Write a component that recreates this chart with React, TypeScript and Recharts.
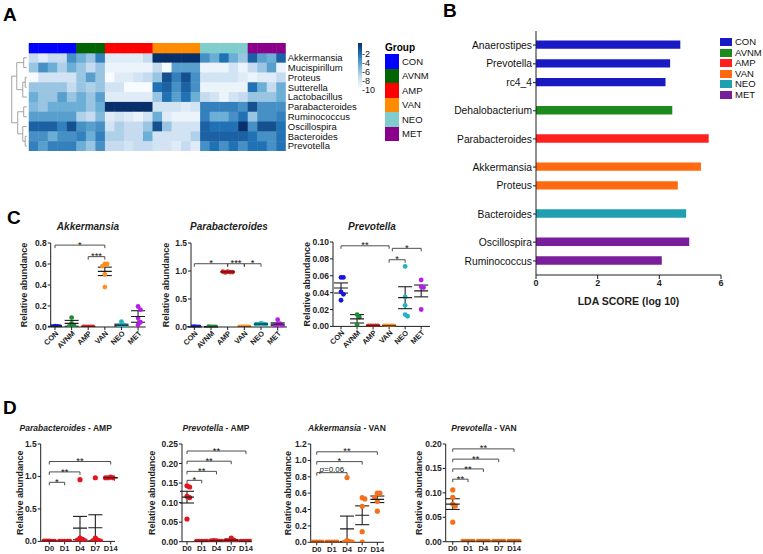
import React from "react";
import {
  ScatterChart, Scatter, XAxis, YAxis, ErrorBar, ReferenceLine,
  BarChart, Bar, Cell,
} from "recharts";

const FONT = "'Liberation Sans', Arial, Helvetica, sans-serif";
const INK = "#1e1e1e";

// ---------------- A: heatmap ----------------
const groups = ["CON", "AVNM", "AMP", "VAN", "NEO", "MET"];
const groupColors = ["#0000ff", "#006400", "#ff0000", "#ff8c00", "#7fcdcd", "#8b008b"];
const groupSizes = [5, 3, 5, 5, 5, 4];
const heatTaxa = [
  "Akkermansia", "Mucispirillum", "Proteus", "Sutterella", "Lactobacillus",
  "Parabacteroides", "Ruminococcus", "Oscillospira", "Bacteroides", "Prevotella",
];
// log abundance per sample (columns ordered CON | AVNM | AMP | VAN | NEO | MET)
const heatValues = [
  [-8, -9, -8, -8, -5, -6, -7, -4.5, -9, -9, -9, -9, -8, -2, -2, -2, -2, -2, -5, -6, -4, -6, -7, -3.5, -5.5, -6, -3.5],
  [-7, -5, -6, -7.5, -6, -7, -8, -7, -9.5, -9.5, -9.5, -9.5, -9.5, -8, -10, -5.5, -5.5, -5.5, -9.5, -9.5, -9.5, -8.5, -9.5, -8, -7, -5.5, -9.5],
  [-10, -8.5, -8.5, -8.5, -8.5, -7, -5.5, -7, -10, -9, -9, -8.5, -8, -7, -3, -4.5, -3, -5, -8.5, -8.5, -8.5, -8.5, -9, -9.5, -9, -9, -8],
  [-7, -7, -7, -7, -8, -7, -7.5, -7, -8.5, -8.5, -10, -10, -10, -4, -3.5, -5, -3.5, -5, -9.5, -9.5, -9.5, -9.5, -9.5, -4, -6, -8, -6],
  [-6, -7, -7, -5.5, -7, -6, -7, -5.5, -9, -9, -9, -9, -9, -7, -4, -5.5, -4, -6, -8, -8.5, -9.5, -8.5, -8, -7, -7, -7, -6],
  [-6.5, -7, -6, -6, -6, -6, -7, -6, -2, -2, -2, -2, -2, -8.5, -8.5, -8.5, -9, -8.5, -4.5, -4.5, -4.5, -4.5, -5, -3, -5, -5, -5],
  [-5.5, -5.5, -5.5, -5.5, -5.5, -7.5, -8, -6.5, -9, -8.5, -9, -9.5, -8.5, -6, -9, -9.5, -9.5, -9.5, -4.5, -6, -6, -5, -4, -7, -5, -5, -4.5],
  [-3.5, -3.5, -3.5, -4.5, -3, -5, -5.5, -5, -8.5, -7.5, -8, -8, -7, -3, -7, -8.5, -8.5, -8.5, -3.5, -4, -4, -4, -2, -5, -3, -3, -4],
  [-5, -5, -6, -5, -5, -4.5, -6, -4.5, -7.5, -7.5, -8, -8, -6, -8.5, -8.5, -8.5, -8.5, -7.5, -3.5, -3.5, -3.5, -3.5, -3.5, -4, -5, -5, -4],
  [-4.5, -5.5, -4.5, -4.5, -4.5, -6, -7, -5, -8, -8, -8.5, -8, -8, -8.5, -8.5, -9, -8, -9, -5, -4, -5, -4, -5, -4, -4, -5, -4],
];
const colorbarTicks = [-2, -4, -6, -8, -10];
// row clustering: [childA, childB, height]; ids 0-9 are rows, 10+ are the merges in order
const dendroMerges = [
  [2, 3, 0.37], [10, 4, 0.63], [0, 1, 0.53], [12, 11, 1.26],
  [8, 9, 0.37], [7, 14, 0.63], [5, 6, 0.53], [16, 15, 1.16], [13, 17, 1.79],
];

const blueStops = ["#f7fbff", "#c6dbef", "#6baed6", "#2171b5", "#08306b"];
function blues(v: number) {
  const t = Math.min(1, Math.max(0, (v + 10) / 8)) * 4;
  const i = Math.min(3, Math.floor(t));
  const f = t - i;
  const a = blueStops[i], b = blueStops[i + 1];
  const ch = (s: string, k: number) => parseInt(s.slice(1 + k * 2, 3 + k * 2), 16);
  const c = [0, 1, 2].map((k) => Math.round(ch(a, k) + (ch(b, k) - ch(a, k)) * f));
  return `rgb(${c.join(",")})`;
}

const HM = { left: 29, top: 43, colW: 9.52, rowH: 9.82, xMin: -2.6 };

function Heatmap() {
  const nCols = groupSizes.reduce((a, b) => a + b, 0);
  const colGroup = groupSizes.flatMap((n, g) => Array(n).fill(g));
  const cells = heatValues.flatMap((row, r) => row.map((v, c) => ({ x: c + 0.5, y: 9.5 - r, c: blues(v) })));
  const band = colGroup.map((g, c) => ({ x: c + 0.5, y: 10.5, c: groupColors[g] }));
  const nodes = heatTaxa.map((_, r) => ({ y: 9.5 - r, h: 0.2 }));
  const links = dendroMerges.map(([a, b, h]) => {
    const A = nodes[a], B = nodes[b];
    nodes.push({ y: (A.y + B.y) / 2, h });
    return [{ x: -A.h, y: A.y }, { x: -h, y: A.y }, { x: -h, y: B.y }, { x: -B.h, y: B.y }];
  });
  const plotW = (nCols - HM.xMin) * HM.colW;
  const plotH = 11 * HM.rowH;
  const Rect = (p: any) => (
    <rect x={p.cx - HM.colW / 2} y={p.cy - HM.rowH / 2} width={HM.colW + 0.5} height={HM.rowH + 0.5} fill={p.payload.c} />
  );
  return (
    <div style={{ position: "absolute", left: HM.left + HM.xMin * HM.colW, top: HM.top }}>
      <ScatterChart width={plotW + 80} height={plotH} margin={{ top: 0, right: 0, bottom: 0, left: 0 }}>
        <XAxis type="number" dataKey="x" domain={[HM.xMin, nCols]} hide allowDataOverflow />
        <YAxis type="number" dataKey="y" domain={[0, 11]} orientation="right" width={80}
          ticks={heatTaxa.map((_, r) => 9.5 - r)} interval={0} allowDataOverflow
          tickFormatter={(v: number) => heatTaxa[Math.round(9.5 - v)]}
          axisLine={false} tickLine={false} tickSize={0} tickMargin={2}
          tick={{ fontSize: 9.5, fill: "#111", fontFamily: FONT }} />
        <Scatter data={cells} shape={Rect} isAnimationActive={false} />
        <Scatter data={band} shape={Rect} isAnimationActive={false} />
        {links.map((pts, i) => (
          <Scatter key={i} data={pts} line={{ stroke: "#9a9a9a", strokeWidth: 0.9 }} shape={() => <g />} isAnimationActive={false} />
        ))}
      </ScatterChart>
    </div>
  );
}

function HeatLegends() {
  return (
    <>
      <div style={{ position: "absolute", left: 358, top: 43, width: 4, height: 45,
        background: `linear-gradient(to bottom, ${[...blueStops].reverse().join(",")})` }} />
      {colorbarTicks.map((t, i) => (
        <div key={t} style={{ position: "absolute", left: 362, top: 54 + i * 9.1 - 5, fontSize: 9, lineHeight: "10px", color: "#111" }}>{t}</div>
      ))}
      <div style={{ position: "absolute", left: 385, top: 42, fontSize: 10, fontWeight: "bold", lineHeight: "12px" }}>Group</div>
      {groups.map((g, i) => (
        <React.Fragment key={g}>
          <div style={{ position: "absolute", left: 385, top: 54 + i * 14.5, width: 14, height: 14.5, background: groupColors[i] }} />
          <div style={{ position: "absolute", left: 402, top: 54 + i * 14.5 + 1.5, fontSize: 9.5, lineHeight: "12px", color: "#111" }}>{g}</div>
        </React.Fragment>
      ))}
    </>
  );
}

// ---------------- B: LDA scores ----------------
const ldaTaxa = ["Anaerostipes", "Prevotella", "rc4_4", "Dehalobacterium", "Parabacteroides", "Akkermansia", "Proteus", "Bacteroides", "Oscillospira", "Ruminococcus"];
const ldaScores = [4.68, 4.35, 4.2, 4.42, 5.6, 5.35, 4.6, 4.87, 4.97, 4.08];
const ldaGroup = [0, 0, 0, 1, 2, 3, 3, 4, 5, 5];
const ldaSlot = [1, 3, 5, 8, 11, 14, 16, 19, 22, 24]; // half-row slots, gaps between groups
const ldaRowCount = 26;
const ldaTicks = [0, 2, 4, 6];
const ldaColors = ["#1a1ac4", "#1e8a1e", "#ff2020", "#ff6a10", "#1f9fb0", "#7a1f9c"];

function LdaTick({ x, y, payload }: any) {
  if (String(payload.value).startsWith("_")) return <g />;
  return (
    <g>
      <line x1={x} x2={x + 3} y1={y} y2={y} stroke={INK} />
      <text x={x - 1} y={y} dy="0.35em" textAnchor="end" fontSize={10.3} fill="#111" fontFamily={FONT}>{payload.value}</text>
    </g>
  );
}

function LdaChart() {
  const rows = Array.from({ length: ldaRowCount }, (_, i) => {
    const k = ldaSlot.indexOf(i);
    return k < 0 ? { name: `_${i}`, lda: null, g: -1 } : { name: ldaTaxa[k], lda: ldaScores[k], g: ldaGroup[k] };
  });
  return (
    <div style={{ position: "absolute", left: 420, top: 20 }}>
      <BarChart width={116 + 185 + 12} height={11 + 244 + 32} data={rows} layout="vertical"
        margin={{ top: 11, right: 12, bottom: 0, left: 0 }}>
        <XAxis type="number" domain={[0, 6]} ticks={ldaTicks} interval={0} height={32}
          tickSize={4} tickMargin={1} axisLine={{ stroke: INK }} tickLine={{ stroke: INK }}
          tick={{ fontSize: 9, fontWeight: "bold", fill: INK, fontFamily: FONT }}
          label={{ value: "LDA SCORE (log 10)", position: "insideBottom", offset: 2, fontSize: 10.5, fontWeight: "bold", fill: INK, fontFamily: FONT }} />
        <YAxis type="category" dataKey="name" width={116} interval={0} tickSize={3} tickMargin={0}
          tickLine={false} axisLine={{ stroke: INK }} tick={<LdaTick />} />
        <Bar dataKey="lda" barSize={12} isAnimationActive={false}>
          {rows.map((r, i) => <Cell key={i} fill={r.g < 0 ? "none" : ldaColors[r.g]} />)}
        </Bar>
      </BarChart>
      {groups.map((g, i) => (
        <React.Fragment key={g}>
          <div style={{ position: "absolute", left: 300, top: 42 - 20 + i * 10.6 - 4, width: 12, height: 8, background: ldaColors[i] }} />
          <div style={{ position: "absolute", left: 315, top: 42 - 20 + i * 10.6 - 6, fontSize: 9.5, lineHeight: "12px", color: "#111" }}>{g}</div>
        </React.Fragment>
      ))}
    </div>
  );
}

// ---------------- C: relative abundance per group ----------------
const cColors = ["#1616e0", "#1e8a32", "#e81e1e", "#ff8f1f", "#1fb4c4", "#b41fe6"];

const akkDots = [[0.008, 0.005, 0.004, 0.003, 0.006], [0.09, 0.035, 0.012, 0.005], [0.002, 0.001, 0.001, 0.002, 0.001], [0.6, 0.6, 0.58, 0.5, 0.38], [0.05, 0.02, 0.01, 0.005, 0.003], [0.195, 0.165, 0.085, 0.045, 0.02]];
const akkMean = [0.005, 0.035, 0.001, 0.53, 0.018, 0.1];
const akkSem = [0.001, 0.028, 0, 0.04, 0.009, 0.055];
const akkSig = [{ a: 0, b: 3, y: 0.78, t: "*" }, { a: 2, b: 3, y: 0.67, t: "***" }];
const akkTicks = [0, 0.2, 0.4, 0.6, 0.8];

const parDots = [[0.005, 0.003, 0.004, 0.002, 0.006], [0.004, 0.003, 0.005, 0.002], [0.99, 0.98, 0.975, 0.98, 0.99], [0.002, 0.001, 0.001, 0.002, 0.001], [0.065, 0.055, 0.05, 0.045, 0.05], [0.13, 0.06, 0.04, 0.02, 0.01]];
const parMean = [0.004, 0.0035, 0.983, 0.0015, 0.053, 0.052];
const parSem = [0.001, 0.001, 0.003, 0, 0.004, 0.022];
const parSig = [{ a: 0, b: 2, y: 1.13, t: "*" }, { a: 2, b: 3, y: 1.13, t: "***" }, { a: 3, b: 4, y: 1.13, t: "*" }];
const parTicks = [0, 0.5, 1, 1.5];

const prvDots = [[0.058, 0.058, 0.041, 0.038, 0.031], [0.014, 0.011, 0.002], [0.0005, 0.0005, 0.0005, 0.0005, 0.0005], [0.0005, 0.0005, 0.0005, 0.0005, 0.0005], [0.071, 0.035, 0.025, 0.014, 0.012], [0.055, 0.047, 0.046, 0.02]];
const prvMean = [0.0455, 0.009, 0.0005, 0.0005, 0.034, 0.042];
const prvSem = [0.006, 0.005, 0, 0, 0.013, 0.007];
const prvSig = [{ a: 0, b: 3, y: 0.0955, t: "**" }, { a: 3.2, b: 5, y: 0.0925, t: "*" }, { a: 3, b: 4, y: 0.079, t: "*" }];
const prvTicks = [0, 0.02, 0.04, 0.06, 0.08, 0.1];

// ---------------- D: time course ----------------
const days = ["D0", "D1", "D4", "D7", "D14"];
const ampColor = "#e3151f";
const vanColor = "#f3711c";

const parAmpDots = [[0.003, 0.002, 0.004, 0.002, 0.003], [0.002, 0.001, 0.002, 0.001, 0.002], [0.95, 0.05, 0.03, 0.02, 0.01], [0.98, 0.05, 0.02, 0.01, 0.005], [0.99, 0.98, 0.98, 0.97, 0.98]];
const parAmpMean = [0.003, 0.002, 0.205, 0.21, 0.98];
const parAmpSem = [0, 0, 0.18, 0.2, 0.004];
const parAmpSig = [{ a: 0, b: 1, y: 0.91, t: "*" }, { a: 0, b: 2, y: 1.07, t: "**" }, { a: 0, b: 4, y: 1.23, t: "**" }];

const prvAmpDots = [[0.143, 0.14, 0.116, 0.113, 0.058], [0.001, 0.001, 0.001, 0.001, 0.001], [0.002, 0.001, 0.003, 0.001, 0.002], [0.009, 0.004, 0.002, 0.001, 0.003], [0.001, 0.001, 0.001, 0.001, 0.001]];
const prvAmpMean = [0.114, 0.001, 0.002, 0.004, 0.001];
const prvAmpSem = [0.015, 0, 0, 0.0015, 0];
const prvAmpSig = [{ a: 0, b: 1, y: 0.157, t: "*" }, { a: 0, b: 2, y: 0.18, t: "**" }, { a: 0, b: 3, y: 0.206, t: "**" }, { a: 0, b: 4, y: 0.232, t: "**" }];
const prvAmpTicks = [0, 0.05, 0.1, 0.15, 0.2, 0.25];

const akkVanDots = [[0.001, 0.001, 0.001, 0.001, 0.001], [0.001, 0.001, 0.001, 0.001, 0.001], [0.79, 0.02, 0.01, 0.003, 0.002], [0.545, 0.53, 0.44, 0.13, 0.003], [0.6, 0.6, 0.55, 0.5, 0.38]];
const akkVanMean = [0.001, 0.001, 0.165, 0.33, 0.525];
const akkVanSem = [0, 0, 0.155, 0.115, 0.04];
const akkVanSig = [{ a: 0, b: 2, y: 0.85, t: "p=0.06" }, { a: 0, b: 3, y: 0.985, t: "*" }, { a: 0, b: 4, y: 1.105, t: "**" }];
const akkVanTicks = [0, 0.2, 0.4, 0.6, 0.8, 1, 1.2];

const prvVanDots = [[0.106, 0.091, 0.077, 0.073, 0.04], [0.0005, 0.0005, 0.0005, 0.0005, 0.0005], [0.0005, 0.0005, 0.0005, 0.0005, 0.0005], [0.0005, 0.0005, 0.0005, 0.0005, 0.0005], [0.0005, 0.0005, 0.0005, 0.0005, 0.0005]];
const prvVanMean = [0.077, 0.0005, 0.0005, 0.0005, 0.0005];
const prvVanSem = [0.011, 0, 0, 0, 0];
const prvVanSig = [{ a: 0, b: 1, y: 0.128, t: "**" }, { a: 0, b: 2, y: 0.149, t: "**" }, { a: 0, b: 3, y: 0.169, t: "**" }, { a: 0, b: 4, y: 0.19, t: "**" }];
const prvVanTicks = [0, 0.05, 0.1, 0.15, 0.2];

type Sig = { a: number; b: number; y: number; t: string };
type Geo = { axisX: number; top: number; bottom: number; right: number; xMin: number; xMax: number; labelX: number };

function RotTick({ x, y, payload, cats }: any) {
  return (
    <text x={x + 2} y={y} transform={`rotate(-45, ${x + 2}, ${y})`} textAnchor="end" dy="0.35em"
      fontSize={7.5} fontWeight="bold" fill={INK} fontFamily={FONT}>{cats[payload.value]}</text>
  );
}

function sigLabel(t: string) {
  return ({ viewBox }: any) => {
    const stars = /^\*+$/.test(t);
    const cx = viewBox.x + viewBox.width / 2;
    return (
      <text x={cx} y={viewBox.y + (stars ? 2.6 : -1)} textAnchor="middle" fontSize={stars ? 9.5 : 8}
        fill="#111" stroke="none" style={{ fill: "#111" }} fontFamily={FONT}>
        {t.startsWith("p=") ? <><tspan fontStyle="italic">p</tspan>{t.slice(1)}</> : t}
      </text>
    );
  };
}

function DotPlot({ geo, cats, dots, means, sems, colors, yTicks, dec, sigs, rotate, r }: {
  geo: Geo; cats: string[]; dots: number[][]; means: number[]; sems: number[]; colors: string[];
  yTicks: number[]; dec: number; sigs: Sig[]; rotate: boolean; r: number;
}) {
  const yMax = yTicks[yTicks.length - 1];
  const left = geo.labelX - 8;
  const chartTop = geo.top - 6;
  const xh = rotate ? 34 : 15;
  const w = geo.right + 6 - left;
  const h = geo.bottom - chartTop + xh;
  const pxPerVal = (geo.bottom - geo.top) / yMax;
  const pxPerCat = (geo.right - geo.axisX) / (geo.xMax - geo.xMin);
  const slots = [0, 1, -1, 2, -2, 3, -3];
  const series = dots.map((vals, g) => {
    const placed: { k: number; py: number }[] = [];
    return vals.map((v) => {
      const py = v * pxPerVal;
      const k = slots.find((s) => !placed.some((p) => p.k === s && Math.abs(p.py - py) < 2 * r * 0.9)) ?? 0;
      placed.push({ k, py });
      return { x: g + (k * r * 1.0) / pxPerCat, y: v };
    });
  });
  const meanPts = means.map((m, i) => ({ x: i, y: m, e: sems[i] }));
  const tick = 3 / pxPerVal;
  const lineStyle = { stroke: "#3a3a3a", strokeWidth: 0.9 };
  const refs = sigs.flatMap((s, k) => [
    <ReferenceLine key={`h${k}`} segment={[{ x: s.a, y: s.y }, { x: s.b, y: s.y }]} {...lineStyle} ifOverflow="visible" label={{ content: sigLabel(s.t) }} />,
    <ReferenceLine key={`a${k}`} segment={[{ x: s.a, y: s.y - tick }, { x: s.a, y: s.y }]} {...lineStyle} ifOverflow="visible" />,
    <ReferenceLine key={`b${k}`} segment={[{ x: s.b, y: s.y - tick }, { x: s.b, y: s.y }]} {...lineStyle} ifOverflow="visible" />,
  ]);
  const MeanLine = (p: any) => (
    <line x1={p.cx - 7} x2={p.cx + 7} y1={p.cy} y2={p.cy} stroke={INK} strokeWidth={1.2} />
  );
  return (
    <div style={{ position: "absolute", left, top: chartTop }}>
      <ScatterChart width={w} height={h} margin={{ top: 6, right: 6, bottom: 0, left: 0 }}>
        <XAxis type="number" dataKey="x" domain={[geo.xMin, geo.xMax]} ticks={cats.map((_, i) => i)} interval={0}
          allowDataOverflow height={xh} tickSize={3} tickMargin={rotate ? 2 : 1}
          axisLine={{ stroke: INK }} tickLine={{ stroke: INK }}
          tick={rotate ? (p: any) => <RotTick {...p} cats={cats} /> : { fontSize: 7.5, fontWeight: "bold", fill: INK, fontFamily: FONT }}
          tickFormatter={(i: number) => cats[i]} />
        <YAxis type="number" dataKey="y" domain={[0, yMax]} ticks={yTicks} interval={0} allowDataOverflow
          width={geo.axisX - left} tickSize={3} tickMargin={1}
          axisLine={{ stroke: INK }} tickLine={{ stroke: INK }}
          tick={{ fontSize: 8.5, fontWeight: "bold", fill: INK, fontFamily: FONT }}
          tickFormatter={(v: number) => v.toFixed(dec)}
          label={{
            content: ({ viewBox }: any) => (
              <text transform={`translate(${viewBox.x + 8},${viewBox.y + viewBox.height / 2}) rotate(-90)`}
                textAnchor="middle" dominantBaseline="central" fontSize={9} fontWeight="bold" fill={INK} fontFamily={FONT}>
                Relative abundance
              </text>
            ),
          }} />
        {refs}
        {series.map((pts, g) => (
          <Scatter key={g} data={pts} isAnimationActive={false}
            shape={(p: any) => <circle cx={p.cx} cy={p.cy} r={r} fill={colors[g]} />} />
        ))}
        <Scatter data={meanPts} shape={MeanLine} isAnimationActive={false}>
          <ErrorBar dataKey="e" direction="y" width={7} stroke={INK} strokeWidth={1.1} />
        </Scatter>
      </ScatterChart>
    </div>
  );
}

const geoC1: Geo = { axisX: 50.7, top: 243.3, bottom: 327.3, right: 145.7, xMin: -0.26, xMax: 5.46, labelX: 24 };
const geoC2: Geo = { axisX: 191, top: 243.3, bottom: 327.3, right: 287, xMin: -0.2, xMax: 5.56, labelX: 166 };
const geoC3: Geo = { axisX: 333, top: 242.3, bottom: 326.7, right: 430, xMin: -0.5, xMax: 5.55, labelX: 307 };
const geoD1: Geo = { axisX: 40.7, top: 444.3, bottom: 541.7, right: 115, xMin: -0.56, xMax: 4.28, labelX: 20 };
const geoD2: Geo = { axisX: 182, top: 444, bottom: 541.7, right: 251.7, xMin: -0.34, xMax: 4.39, labelX: 152 };
const geoD3: Geo = { axisX: 310.7, top: 444, bottom: 542.3, right: 384, xMin: -0.4, xMax: 4.44, labelX: 288 };
const geoD4: Geo = { axisX: 445.7, top: 444, bottom: 541.7, right: 521.7, xMin: -0.46, xMax: 4.5, labelX: 419 };

function Title({ x, y, italic, rest, size }: { x: number; y: number; italic: string; rest?: string; size: number }) {
  return (
    <div style={{ position: "absolute", left: x - 80, width: 160, top: y - 7, lineHeight: "14px", textAlign: "center",
      fontSize: size, fontWeight: "bold", color: INK }}>
      <i>{italic}</i>{rest}
    </div>
  );
}

function Letter({ x, y, c }: { x: number; y: number; c: string }) {
  return <div style={{ position: "absolute", left: x, top: y, fontSize: 19, fontWeight: "bold", lineHeight: "19px" }}>{c}</div>;
}

export default function App() {
  const five = (c: string) => days.map(() => c);
  return (
    <div style={{ position: "relative", width: 763, height: 554, background: "#fff", fontFamily: FONT, overflow: "hidden" }}>
      <style>{"body{margin:0}"}</style>
      <Letter x={3} y={4.5} c="A" />
      <Letter x={443} y={0.5} c="B" />
      <Letter x={7} y={208} c="C" />
      <Letter x={3} y={397.5} c="D" />

      <Heatmap />
      <HeatLegends />
      <LdaChart />

      <Title x={88} y={227} italic="Akkermansia" size={10} />
      <Title x={229} y={227} italic="Parabacteroides" size={10} />
      <Title x={372} y={227} italic="Prevotella" size={10} />
      <DotPlot geo={geoC1} cats={groups} dots={akkDots} means={akkMean} sems={akkSem} colors={cColors} yTicks={akkTicks} dec={1} sigs={akkSig} rotate r={2.4} />
      <DotPlot geo={geoC2} cats={groups} dots={parDots} means={parMean} sems={parSem} colors={cColors} yTicks={parTicks} dec={1} sigs={parSig} rotate r={2.4} />
      <DotPlot geo={geoC3} cats={groups} dots={prvDots} means={prvMean} sems={prvSem} colors={cColors} yTicks={prvTicks} dec={2} sigs={prvSig} rotate r={2.4} />

      <Title x={65.7} y={428} italic="Parabacteroides" rest=" - AMP" size={8.5} />
      <Title x={216} y={428} italic="Prevotella" rest=" - AMP" size={8.5} />
      <Title x={347} y={428} italic="Akkermansia" rest=" - VAN" size={8.5} />
      <Title x={484} y={428} italic="Prevotella" rest=" - VAN" size={8.5} />
      <DotPlot geo={geoD1} cats={days} dots={parAmpDots} means={parAmpMean} sems={parAmpSem} colors={five(ampColor)} yTicks={parTicks} dec={1} sigs={parAmpSig} rotate={false} r={2.6} />
      <DotPlot geo={geoD2} cats={days} dots={prvAmpDots} means={prvAmpMean} sems={prvAmpSem} colors={five(ampColor)} yTicks={prvAmpTicks} dec={2} sigs={prvAmpSig} rotate={false} r={2.6} />
      <DotPlot geo={geoD3} cats={days} dots={akkVanDots} means={akkVanMean} sems={akkVanSem} colors={five(vanColor)} yTicks={akkVanTicks} dec={1} sigs={akkVanSig} rotate={false} r={2.6} />
      <DotPlot geo={geoD4} cats={days} dots={prvVanDots} means={prvVanMean} sems={prvVanSem} colors={five(vanColor)} yTicks={prvVanTicks} dec={2} sigs={prvVanSig} rotate={false} r={2.6} />
    </div>
  );
}
